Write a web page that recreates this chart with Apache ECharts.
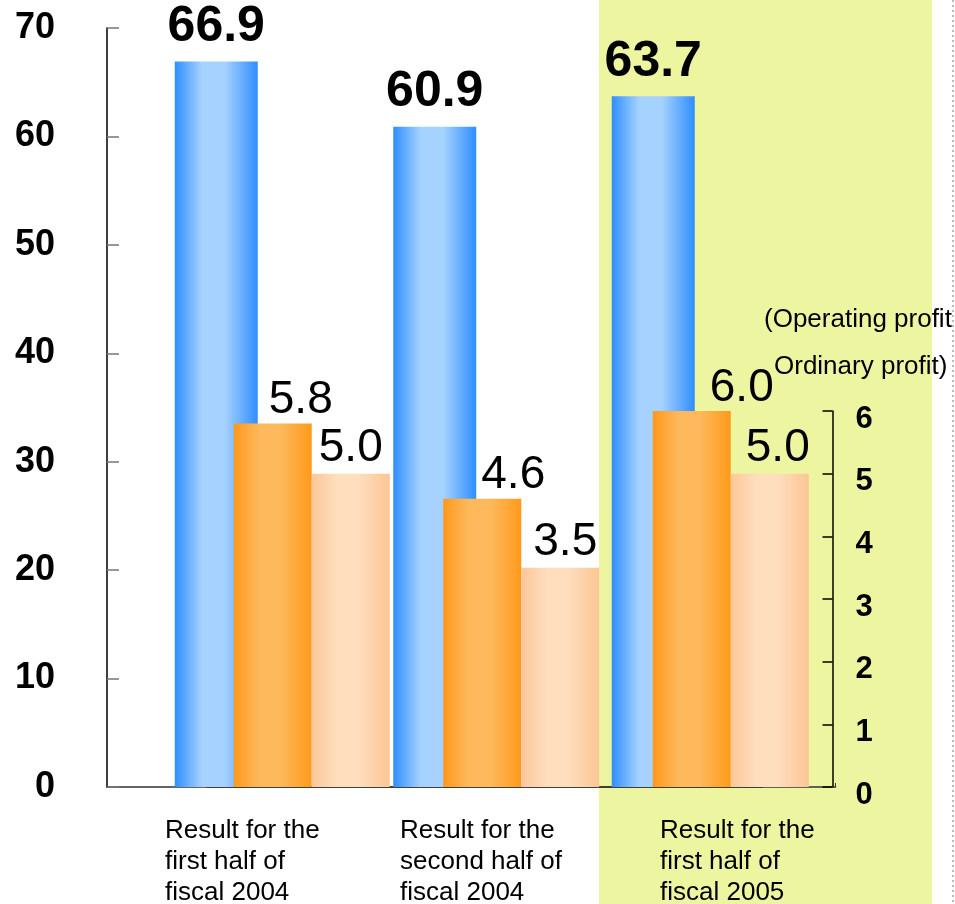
<!DOCTYPE html>
<html><head><meta charset="utf-8">
<script src="https://cdn.jsdelivr.net/npm/echarts@6/dist/echarts.min.js"></script>
<style>html,body{margin:0;padding:0;background:#fff}#chart{width:955px;height:904px}</style>
</head><body><div id="chart"></div>
<script>
const categories = ['Result for the\nfirst half of\nfiscal 2004', 'Result for the\nsecond half of\nfiscal 2004', 'Result for the\nfirst half of\nfiscal 2005'];
const netSales = [66.9, 60.9, 63.7];
const operatingProfit = [5.8, 4.6, 6.0];
const ordinaryProfit = [5.0, 3.5, 5.0];
const leftAxisTicks = [0, 10, 20, 30, 40, 50, 60, 70];
const rightAxisTicks = [0, 1, 2, 3, 4, 5, 6];
const rightAxisTitle = ['(Operating profit', 'Ordinary profit)'];

const FONT = '"Liberation Sans", Arial, Helvetica, sans-serif';
const chart = echarts.init(document.getElementById('chart'), null, {renderer: 'canvas'});
function grad(c0, c1, c2) {
  return new echarts.graphic.LinearGradient(0, 0, 1, 0, [
    {offset: 0, color: c0}, {offset: 0.33, color: c1}, {offset: 0.6, color: c1}, {offset: 1, color: c2}
  ]);
}
const opShift = [28, 31, 50];
const ordShift = [0, 5, 8];
const catPad = [65, 100, 160];
const rich = {};
catPad.forEach((p, i) => {
  rich['p' + i] = {padding: [0, 0, 0, p], fontSize: 26, lineHeight: 31, fontFamily: FONT, color: '#000'};
});

const option = {
  animation: false,
  backgroundColor: '#ffffff',
  graphic: [
    {type: 'rect', z: -10, silent: true, shape: {x: 599, y: 0, width: 333, height: 904}, style: {fill: '#EEF5A0'}},
    {type: 'line', z: -5, silent: true, shape: {x1: 953, y1: 0, x2: 953, y2: 904}, style: {stroke: '#BBBBBB', lineWidth: 2, lineDash: [2, 3]}},
    {type: 'text', left: 764, top: 307, style: {text: rightAxisTitle[0], font: '26px ' + FONT, fill: '#000'}},
    {type: 'text', left: 774, top: 354, style: {text: rightAxisTitle[1], font: '26px ' + FONT, fill: '#000'}}
  ],
  grid: [
    {left: 107, top: 28, width: 655.5, height: 759, outerBoundsMode: 'none', containLabel: false},
    {left: 207, top: 411, width: 628.5, height: 376, outerBoundsMode: 'none', containLabel: false},
    {left: 0, top: 28, width: 600, height: 759, outerBoundsMode: 'none', containLabel: false}
  ],
  xAxis: [
    {gridIndex: 0, type: 'category', data: categories, axisLine: {show: true, lineStyle: {color: '#333', width: 1.5}}, axisTick: {show: false}, axisLabel: {show: false}},
    {gridIndex: 1, type: 'category', data: categories, axisLine: {show: true, lineStyle: {color: '#333', width: 1.5}}, axisTick: {show: true, inside: true, length: 4, lineStyle: {color: '#333'}}, axisLabel: {show: false}},
    {gridIndex: 2, type: 'category', data: categories, axisLine: {show: false}, axisTick: {show: false},
      axisLabel: {interval: 0, align: 'left', margin: 28, fontSize: 26, lineHeight: 31, fontFamily: FONT, color: '#000',
        formatter: (v, i) => v.split('\n').map(l => '{p' + i + '|' + l + '}').join('\n'), rich: rich}}
  ],
  yAxis: [
    {gridIndex: 0, type: 'value', min: leftAxisTicks[0], max: leftAxisTicks[leftAxisTicks.length - 1], interval: leftAxisTicks[1] - leftAxisTicks[0],
      axisLine: {show: true, lineStyle: {color: '#000', width: 1.5}}, axisTick: {show: true, inside: true, length: 12, lineStyle: {color: '#777', width: 1.5}},
      splitLine: {show: false}, axisLabel: {margin: 52, fontSize: 36, fontWeight: 'bold', fontFamily: FONT, color: '#000'}},
    {gridIndex: 1, type: 'value', position: 'right', offset: -3, min: rightAxisTicks[0], max: rightAxisTicks[rightAxisTicks.length - 1], interval: rightAxisTicks[1] - rightAxisTicks[0],
      axisLine: {show: true, lineStyle: {color: '#000', width: 1.5}}, axisTick: {show: true, inside: true, length: 10, lineStyle: {color: '#000', width: 1.5}},
      splitLine: {show: false}, axisLabel: {margin: 23, verticalAlign: 'top', lineHeight: 16, fontSize: 31, fontWeight: 'bold', fontFamily: FONT, color: '#000'}},
    {gridIndex: 2, type: 'value', show: false}
  ],
  series: [
    {name: 'Net sales', type: 'bar', xAxisIndex: 0, yAxisIndex: 0, barWidth: 83, data: netSales,
      itemStyle: {color: grad('#2F8EFF', '#A6D2FF', '#2F8EFF')},
      label: {show: true, position: 'top', distance: 9, fontSize: 50, fontWeight: 'bold', fontFamily: FONT, color: '#000', formatter: p => p.value.toFixed(1)}},
    {name: 'Operating profit', type: 'bar', xAxisIndex: 1, yAxisIndex: 1, barWidth: 78, barGap: '0%',
      data: operatingProfit.map((v, i) => ({value: v, label: {offset: [opShift[i], 0]}})),
      itemStyle: {color: grad('#FF981A', '#FDB95C', '#FF9A1A')},
      label: {show: true, position: 'top', distance: 0, fontSize: 46, fontFamily: FONT, color: '#000', formatter: p => p.value.toFixed(1)}},
    {name: 'Ordinary profit', type: 'bar', xAxisIndex: 1, yAxisIndex: 1, barWidth: 78, barGap: '0%',
      data: ordinaryProfit.map((v, i) => ({value: v, label: {offset: [ordShift[i], 0]}})),
      itemStyle: {color: grad('#FCC79A', '#FEDEBD', '#FCC594')},
      label: {show: true, position: 'top', distance: 2, fontSize: 46, fontFamily: FONT, color: '#000', formatter: p => p.value.toFixed(1)}}
  ]
};
chart.setOption(option);
</script>
</body></html>
